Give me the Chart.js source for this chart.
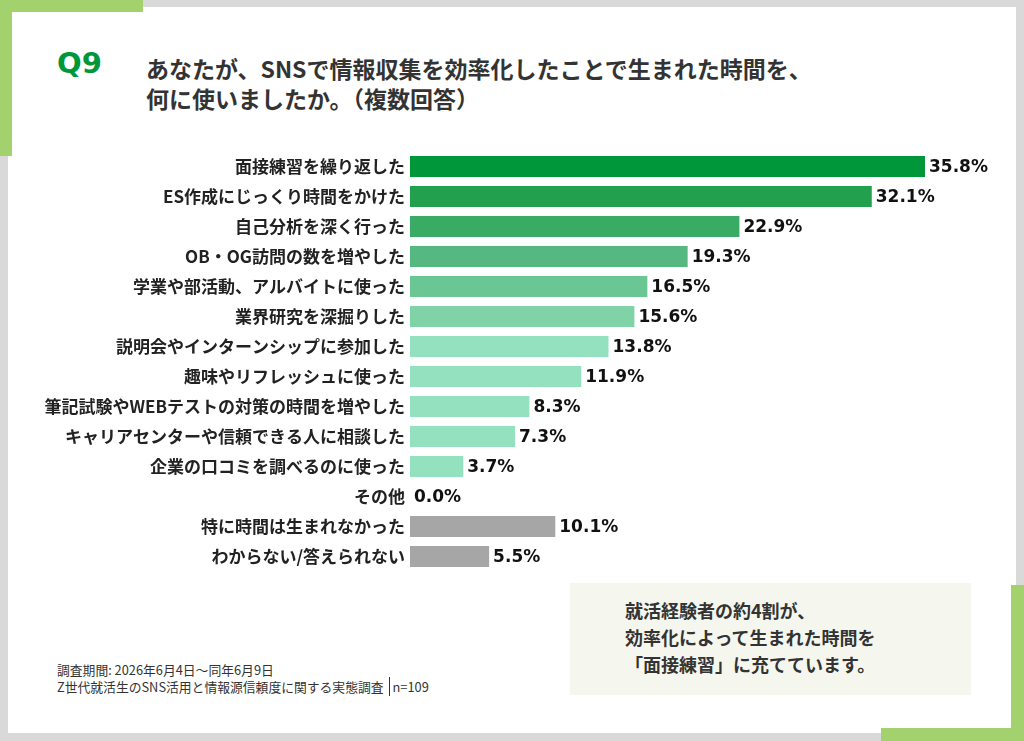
<!DOCTYPE html>
<html>
<head>
<meta charset="utf-8">
<script src="https://cdn.jsdelivr.net/npm/chart.js@4"></script>
<style>
  html, body { margin: 0; padding: 0; }
  body { width: 1024px; height: 741px; background: #d9d9d9; position: relative; overflow: hidden; font-family: 'Noto Sans CJK JP', sans-serif; }
  .panel { position: absolute; left: 8px; top: 7px; width: 1008px; height: 726px; background: #fff; }
  .g { position: absolute; background: #a3d16e; }
  .q { position: absolute; left: 57px; top: 46px; font: bold 29px 'DejaVu Sans', sans-serif; color: #00963a; }
  .title { position: absolute; left: 146px; top: 53px; font-weight: bold; font-size: 23px; line-height: 30px; color: #333; }
  .note { position: absolute; left: 570px; top: 583px; width: 401px; height: 112px; background: #f5f7ef; }
  .note div { position: absolute; left: 55px; top: 14px; font-weight: bold; font-size: 18px; line-height: 27px; color: #333; }
  .src { position: absolute; left: 57px; top: 661px; font-size: 12.8px; line-height: 17px; color: #333; }
  .src span { border-left: 1px solid #333; padding-left: 3px; margin-left: 5px; }
  #wrap { position: absolute; left: 0; top: 0; width: 1024px; height: 741px; }
</style>
</head>
<body>
<div class="panel"></div>
<div class="g" style="left:0;top:0;width:143px;height:12px"></div>
<div class="g" style="left:0;top:0;width:12px;height:156px"></div>
<div class="g" style="left:1011px;top:585px;width:13px;height:156px"></div>
<div class="g" style="left:881px;top:728px;width:143px;height:13px"></div>
<div class="q">Q9</div>
<div class="title">あなたが、SNSで情報収集を効率化したことで生まれた時間を、<br>何に使いましたか。（複数回答）</div>
<div class="note"><div>就活経験者の約4割が、<br>効率化によって生まれた時間を<br>「面接練習」に充てています。</div></div>
<div class="src">調査期間: 2026年6月4日～同年6月9日<br>Z世代就活生のSNS活用と情報源信頼度に関する実態調査<span>n=109</span></div>
<div id="wrap"><canvas id="myChart" width="1024" height="741"></canvas></div>
<script>
const labels = [
  '面接練習を繰り返した',
  'ES作成にじっくり時間をかけた',
  '自己分析を深く行った',
  'OB・OG訪問の数を増やした',
  '学業や部活動、アルバイトに使った',
  '業界研究を深掘りした',
  '説明会やインターンシップに参加した',
  '趣味やリフレッシュに使った',
  '筆記試験やWEBテストの対策の時間を増やした',
  'キャリアセンターや信頼できる人に相談した',
  '企業の口コミを調べるのに使った',
  'その他',
  '特に時間は生まれなかった',
  'わからない/答えられない'
];
const values = [35.8, 32.1, 22.9, 19.3, 16.5, 15.6, 13.8, 11.9, 8.3, 7.3, 3.7, 0.0, 10.1, 5.5];
const barColors = [
  '#00963a', '#22a04e', '#3aab64', '#55b880', '#6ac693', '#7fd3a7',
  '#93e1be', '#93e1be', '#93e1be', '#93e1be', '#93e1be', '#93e1be',
  '#a6a6a6', '#a6a6a6'
];

// 値ラベル（バーの右側）
const valueLabels = {
  id: 'valueLabels',
  afterDatasetsDraw(chart) {
    const ctx = chart.ctx;
    const meta = chart.getDatasetMeta(0);
    ctx.save();
    ctx.font = 'bold 17px "DejaVu Sans", sans-serif';
    ctx.fillStyle = '#111';
    ctx.textBaseline = 'middle';
    ctx.textAlign = 'left';
    meta.data.forEach((bar, i) => {
      ctx.fillText(values[i].toFixed(1) + '%', bar.x + 4, bar.y + 1);
    });
    ctx.restore();
  }
};

const ctx = document.getElementById('myChart').getContext('2d');
const myChart = new Chart(ctx, {
  type: 'bar',
  data: {
    labels: labels,
    datasets: [{
      data: values,
      backgroundColor: barColors,
      borderWidth: 0,
      categoryPercentage: 1,
      barPercentage: 0.7
    }]
  },
  options: {
    indexAxis: 'y',
    responsive: false,
    animation: false,
    layout: { padding: { left: 0, right: 38.6, top: 151.5, bottom: 169.5 } },
    plugins: { legend: { display: false }, tooltip: { enabled: false } },
    scales: {
      x: { display: false, min: 0, max: 40 },
      y: {
        afterFit(scale) { scale.width = 410; },
        grid: { display: false, drawTicks: false },
        border: { display: false },
        ticks: {
          padding: 5,
          color: '#222',
          font: { family: 'Noto Sans CJK JP', size: 17, weight: 'bold' }
        }
      }
    }
  },
  plugins: [valueLabels]
});
</script>
</body>
</html>
